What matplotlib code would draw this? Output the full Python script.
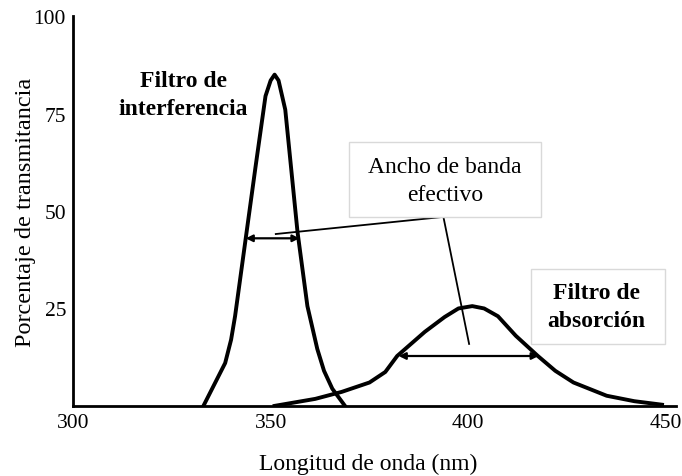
import matplotlib
matplotlib.use("Agg")
import matplotlib.pyplot as plt
from matplotlib.patches import Rectangle

plt.rcParams["font.family"] = ["Liberation Serif", "DejaVu Serif"]

# filtro de interferencia
interf_x = [333, 336, 338.5, 340, 341, 343.7, 346.2, 348.7, 350, 351, 352, 353.7, 356.8, 359.3, 361.8, 363.5, 365.6, 368.8]
interf_y = [0, 6, 11, 17, 23, 43, 61.5, 79.5, 83.5, 85, 83.5, 76, 44.6, 25.6, 14.6, 9, 4.4, 0]

# filtro de absorcion
absor_x = [351, 361.3, 368, 375, 379, 382, 389, 394, 397.5, 401, 404, 407.5, 412, 417.6, 422, 426.6, 435, 442, 449]
absor_y = [0, 1.8, 3.6, 6, 8.7, 12.8, 19, 22.8, 25, 25.6, 25, 23, 18, 12.8, 9, 6, 2.6, 1.2, 0.3]

# anchos de banda efectivos (x inicio, x fin, y)
band_interf = (343.7, 357.3, 43)
band_absor = (382.4, 417.8, 12.8)
leader_x = [351.3, 393.7, 400.2]
leader_y = [44.1, 48.5, 15.9]

xticks = [300, 350, 400, 450]
yticks = [25, 50, 75, 100]

fig = plt.figure(figsize=(6.82, 4.77), dpi=100)
ax = fig.add_axes([0.107, 0.147, 0.884, 0.817])

ax.plot(interf_x, interf_y, color="black", lw=2.8, solid_joinstyle="round")
ax.plot(absor_x, absor_y, color="black", lw=2.8, solid_joinstyle="round")

for x0, x1, yy in [band_interf, band_absor]:
    ax.annotate("", xy=(x0, yy), xytext=(x1, yy),
                arrowprops=dict(arrowstyle="<|-|>", color="black", lw=1.6,
                                mutation_scale=10, shrinkA=0, shrinkB=0))
ax.plot(leader_x, leader_y, color="black", lw=1.3)

# cuadros de texto
ax.add_patch(Rectangle((369.9, 48.5), 48.4, 19.2, fc="white", ec="#d9d9d9", lw=1, zorder=3))
ax.add_patch(Rectangle((415.8, 15.9), 33.9, 19.2, fc="white", ec="#d9d9d9", lw=1, zorder=3))

ax.text(394.1, 57.8, "Ancho de banda\nefectivo", ha="center", va="center", fontsize=17,
        linespacing=1.45, zorder=4)
ax.text(432.4, 25.4, "Filtro de\nabsorción", ha="center", va="center", fontsize=17,
        fontweight="bold", linespacing=1.45, zorder=4)
ax.text(328, 79.8, "Filtro de\ninterferencia", ha="center", va="center", fontsize=17,
        fontweight="bold", linespacing=1.45)

ax.set_xlim(301.2, 452.5)
ax.set_ylim(0, 100)
ax.set_xticks(xticks)
ax.set_yticks(yticks)
ax.tick_params(length=0, labelsize=15.5, pad=5)
ax.spines["top"].set_visible(False)
ax.spines["right"].set_visible(False)
ax.spines["left"].set_linewidth(2)
ax.spines["bottom"].set_linewidth(2)
ax.set_xlabel("Longitud de onda (nm)", fontsize=17, labelpad=15, x=0.49)
ax.set_ylabel("Porcentaje de transmitancia", fontsize=17.5, labelpad=-2)

fig.savefig("out.png", dpi=100)
